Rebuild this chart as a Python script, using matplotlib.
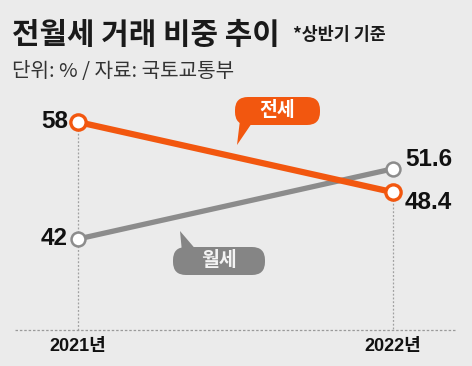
import matplotlib
matplotlib.use("Agg")
import matplotlib.pyplot as plt
from matplotlib import font_manager
from matplotlib.patches import FancyBboxPatch, Polygon

# ---- data ----
years = ["2021년", "2022년"]
jeonse = [58, 48.4]
wolse = [42, 51.6]
jeonse_labels = ["58", "48.4"]
wolse_labels = ["42", "51.6"]
title = "전월세 거래 비중 추이"
note = "*상반기 기준"
subtitle = "단위: % / 자료: 국토교통부"

names = {f.name for f in font_manager.fontManager.ttflist}
KR = "Noto Sans CJK KR"
NUM = "Liberation Sans Narrow" if "Liberation Sans Narrow" in names else "Liberation Sans"
num_family = [NUM, KR]
kr_family = [KR, "DejaVu Sans"]

W, H = 472, 366
fig = plt.figure(figsize=(W / 100, H / 100), dpi=100)
bg = "#ebebeb"
fig.patch.set_facecolor(bg)

# overlay for pixel-based decoration (origin top-left)
ov = fig.add_axes([0, 0, 1, 1])
ov.set_xlim(0, W)
ov.set_ylim(H, 0)
ov.axis("off")
ov.set_facecolor("none")

# data axes
ax = fig.add_axes([0, 0, 1, 1])
ax.patch.set_alpha(0)
ax.axis("off")
x = [0, 1]
ax.set_xlim(-78 / 315, 394 / 315)
k = 117 / 16
ax.set_ylim(58 - 244 / k, 58 + 122 / k)

orange = "#f2570f"
gray = "#8c8c8c"

# guide lines
ov.plot([15, 455], [330, 330], color="#9a9a9a", lw=0.9, ls=(0, (2, 1.5)), zorder=1)
for xi, v in zip(x, jeonse):
    ax.plot([xi, xi], [v, 58 - 208 / k], color="#a0a0a0", lw=0.9, ls=(0, (1.5, 1.5)), zorder=1)

# lines
ax.plot(x, wolse, color=gray, lw=3.8, solid_capstyle="round", zorder=3)
ax.plot(x, wolse, ls="none", marker="o", ms=10, mfc="white", mec=gray, mew=1.8, zorder=4)
ax.plot(x, jeonse, color=orange, lw=4.5, solid_capstyle="round", zorder=5)
ax.plot(x, jeonse, ls="none", marker="o", ms=11, mfc="white", mec=orange, mew=2.4, zorder=6)

# value labels
numfs = 17.5
kw = dict(textcoords="offset pixels", va="center", fontsize=numfs, fontweight="bold",
          family=num_family, color="#111111")
ax.annotate(jeonse_labels[0], (x[0], jeonse[0]), xytext=(-10, 0), ha="right", **kw)
ax.annotate(wolse_labels[0], (x[0], wolse[0]), xytext=(-10, 0), ha="right", **kw)
ax.annotate(wolse_labels[1], (x[1], wolse[1]), xytext=(12, 9), ha="left", **kw)
ax.annotate(jeonse_labels[1], (x[1], jeonse[1]), xytext=(12, -10), ha="left", **kw)

# year labels
for xi, lab in zip(x, years):
    ax.annotate(lab, (xi, 58 - 225 / k), ha="center", va="center", fontsize=13,
                fontweight="bold", family=num_family, color="#111111")

# callouts
box = FancyBboxPatch((235, 97), 85, 28, boxstyle="round,pad=0,rounding_size=13",
                     fc=orange, ec="none", zorder=7)
ov.add_patch(box)
ov.add_patch(Polygon([[240, 120], [254, 120], [237, 145]], closed=True, fc=orange, ec="none", zorder=7))
ov.text(277, 111, "전세", ha="center", va="center", fontsize=14, fontweight="bold",
        family=kr_family, color="white", zorder=8)

box2 = FancyBboxPatch((173, 247), 92, 28, boxstyle="round,pad=0,rounding_size=13",
                      fc="#858585", ec="none", zorder=7)
ov.add_patch(box2)
ov.add_patch(Polygon([[182, 252], [198, 252], [180, 231]], closed=True, fc="#858585", ec="none", zorder=7))
ov.text(219, 261, "월세", ha="center", va="center", fontsize=14, fontweight="bold",
        family=kr_family, color="#f4f4f4", zorder=8)

# titles
fig.text(12 / W, 1 - 35 / H, title, ha="left", va="center", fontsize=21.5, fontweight="bold",
         family=kr_family, color="#1a1a1a")
fig.text(293 / W, 1 - 35 / H, note, ha="left", va="center", fontsize=12.5, fontweight="bold",
         family=kr_family, color="#1a1a1a")
fig.text(12 / W, 1 - 71 / H, subtitle, ha="left", va="center", fontsize=14.5,
         family=kr_family, color="#333333")

fig.savefig("out.png", dpi=100, facecolor=bg)
